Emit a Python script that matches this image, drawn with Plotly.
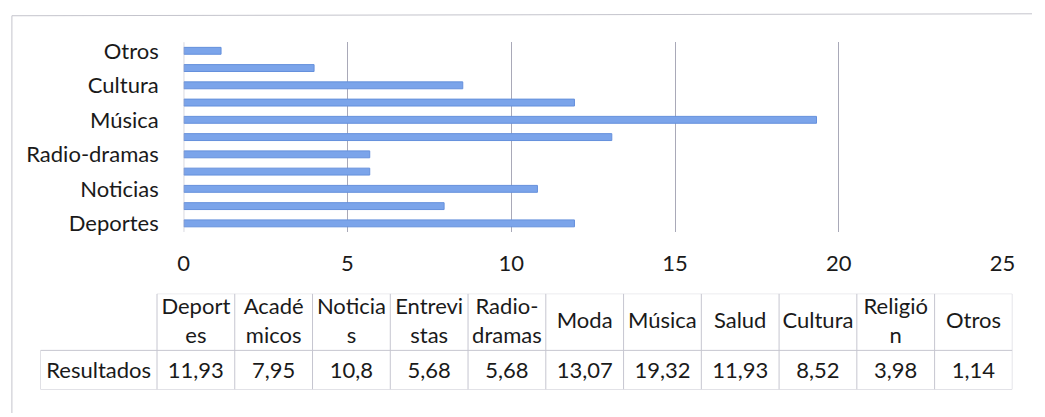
import plotly.graph_objects as go

# Survey results: preferred radio programme type (%)
categories = ["Deportes", "Académicos", "Noticias", "Entrevistas", "Radio-dramas",
              "Moda", "Música", "Salud", "Cultura", "Religión", "Otros"]
values = [11.93, 7.95, 10.8, 5.68, 5.68, 13.07, 19.32, 11.93, 8.52, 3.98, 1.14]

# Labels shown on the category axis (every other category)
axis_labels = ["Deportes", "Noticias", "Radio-dramas", "Música", "Cultura", "Otros"]
x_ticks = [0, 5, 10, 15, 20, 25]

# Header text of the data table, wrapped as in the cells
table_headers = ["Deport<br>es", "Acadé<br>micos", "Noticia<br>s", "Entrevi<br>stas",
                 "Radio-<br>dramas", "Moda", "Música", "Salud", "Cultura",
                 "Religió<br>n", "Otros"]
row_label = "Resultados"

W, H = 1045, 417
FONT = "Lato"
FS = 22
GRID = "#a9a9b8"
CELL_LINE = "#c6c6d0"
TEXT = "#1a1a1a"


def px_x(p):
    return p / W


def px_y(p):
    return 1 - p / H


fig = go.Figure()

# Horizontal bars
fig.add_trace(go.Bar(
    x=values, y=categories, orientation="h",
    marker=dict(color="#7ba4ea", line=dict(color="#6590dc", width=1)),
    width=0.4, hoverinfo="x+y", showlegend=False,
    xaxis="x", yaxis="y",
))

# Data table below the chart (header row + value row)
n = len(categories)
col_centers = [i + 0.5 for i in range(n)]
fmt_values = [str(v).replace(".", ",") for v in values]
fig.add_trace(go.Scatter(
    x=col_centers + col_centers + [-0.75],
    y=[68] * n + [17] * n + [17],
    text=table_headers + fmt_values + [row_label],
    mode="text", textposition="middle center",
    textfont=dict(family=FONT, size=FS, color=TEXT),
    hoverinfo="skip", showlegend=False,
    xaxis="x2", yaxis="y2",
))

shapes = []
# table grid lines
line = dict(color=CELL_LINE, width=1)
for yy in (0, 40):
    shapes.append(dict(type="line", xref="x2", yref="y2", x0=-1.5, x1=n, y0=yy, y1=yy, line=line))
shapes.append(dict(type="line", xref="x2", yref="y2", x0=0, x1=n, y0=98, y1=98, line=line))
shapes.append(dict(type="line", xref="x2", yref="y2", x0=-1.5, x1=-1.5, y0=0, y1=40, line=line))
for i in range(n + 1):
    shapes.append(dict(type="line", xref="x2", yref="y2", x0=i, x1=i, y0=0, y1=98, line=line))

# outer chart frame
shapes.append(dict(type="line", xref="paper", yref="paper",
                   x0=px_x(6), x1=1.0, y0=px_y(11), y1=px_y(9),
                   line=dict(color="#c4c4cc", width=1)))
shapes.append(dict(type="line", xref="paper", yref="paper",
                   x0=px_x(6), x1=px_x(6), y0=px_y(11), y1=0,
                   line=dict(color="#c4c4cc", width=1)))

fig.update_layout(
    width=W, height=H,
    margin=dict(l=0, r=0, t=0, b=0),
    paper_bgcolor="white", plot_bgcolor="white",
    font=dict(family=FONT, size=FS, color=TEXT),
    bargap=0.6,
    xaxis=dict(
        domain=[px_x(181), px_x(1015)], range=[0, 25],
        tickvals=x_ticks, ticktext=[str(t) for t in x_ticks],
        showgrid=True, gridcolor=GRID, gridwidth=1,
        zeroline=False, showline=False, ticks="",
        tickfont=dict(family=FONT, size=FS, color=TEXT),
        ticklabelstandoff=16, anchor="y", fixedrange=True,
    ),
    yaxis=dict(
        domain=[px_y(232), px_y(38)], range=[-0.5, n - 0.5],
        type="category", categoryorder="array", categoryarray=categories,
        tickvals=axis_labels, ticktext=axis_labels,
        showgrid=False, zeroline=False, showline=False, ticks="",
        tickfont=dict(family=FONT, size=FS, color=TEXT),
        ticklabelstandoff=24, anchor="x", fixedrange=True,
    ),
    xaxis2=dict(
        domain=[px_x(35), px_x(1025)], range=[-1.5, n],
        visible=False, anchor="y2", fixedrange=True,
    ),
    yaxis2=dict(
        domain=[px_y(393), px_y(295)], range=[0, 98],
        visible=False, anchor="x2", fixedrange=True,
    ),
    shapes=shapes,
)

# vertical axis line at zero
fig.add_shape(type="line", xref="x", yref="paper", x0=0, x1=0,
              y0=px_y(232), y1=px_y(38), line=dict(color=GRID, width=1))

fig.write_html("out.html")
